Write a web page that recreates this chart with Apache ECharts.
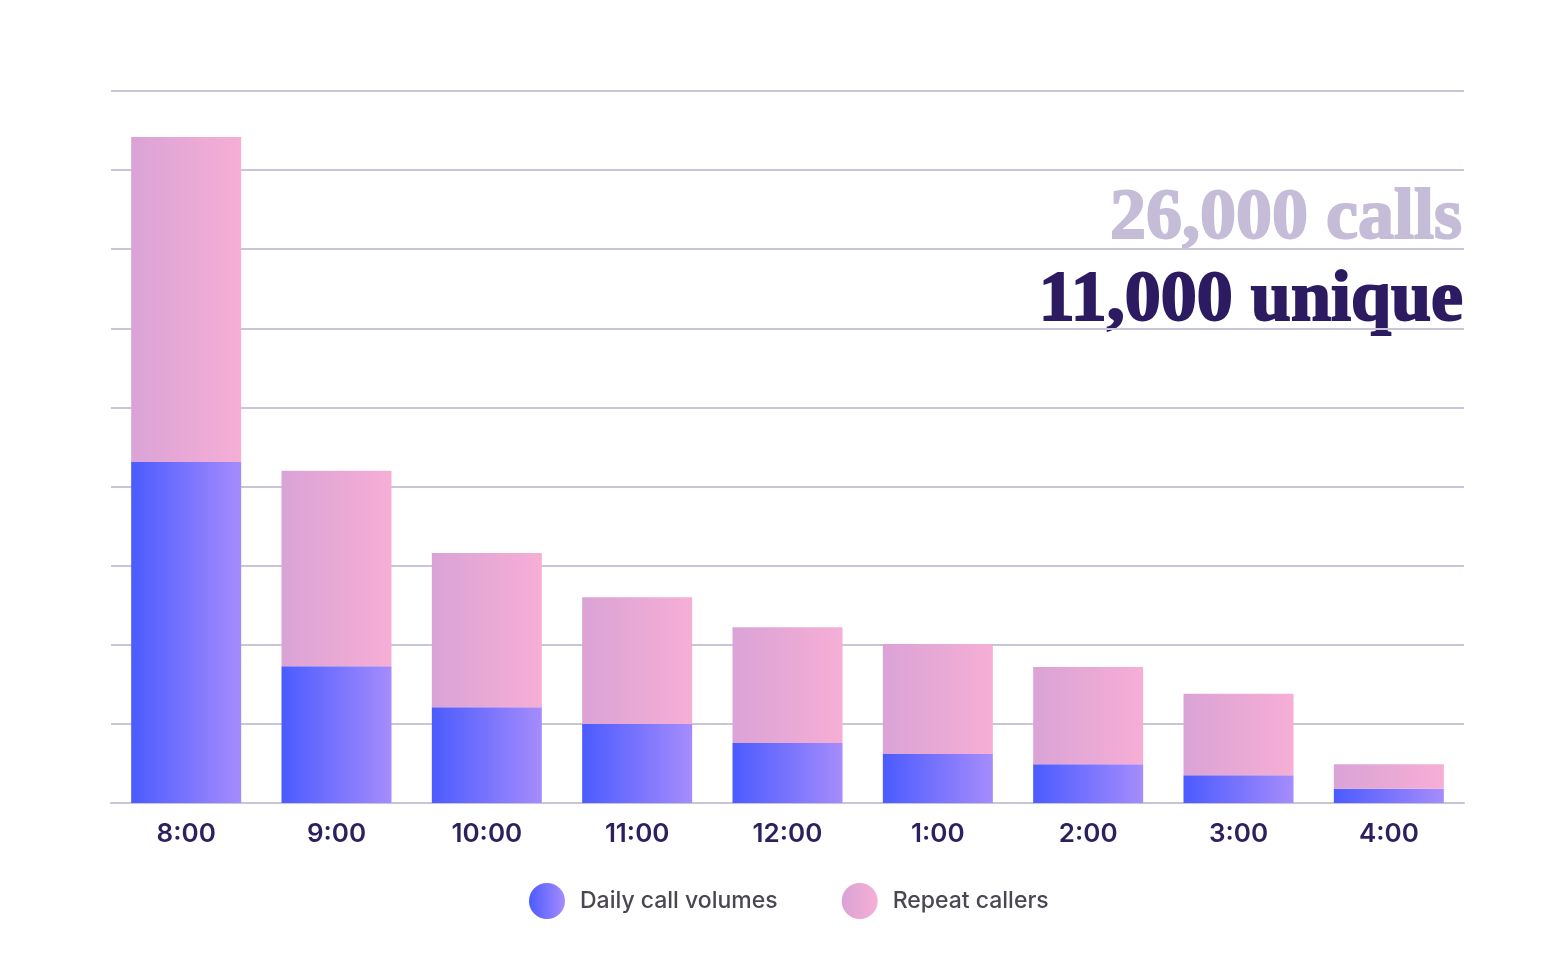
<!DOCTYPE html>
<html>
<head>
<meta charset="utf-8">
<script src="https://cdn.jsdelivr.net/npm/echarts@6/dist/echarts.min.js"></script>
<style>
html,body{margin:0;padding:0;background:#fff;}
#c{width:1558px;height:970px;}
</style>
</head>
<body>
<div id="c"></div>
<script>
const categories = ['8:00','9:00','10:00','11:00','12:00','1:00','2:00','3:00','4:00'];
const dailyCallVolumes = [4.31, 1.73, 1.21, 1.00, 0.76, 0.62, 0.49, 0.35, 0.18];
const repeatCallers = [4.11, 2.47, 1.95, 1.60, 1.46, 1.39, 1.23, 1.03, 0.31];
const headlineTotal = '26,000 calls';
const headlineUnique = '11,000 unique';

const chart = echarts.init(document.getElementById('c'));
const blueGrad = new echarts.graphic.LinearGradient(0, 0, 1, 0, [
  {offset: 0, color: '#4b5bff'},
  {offset: 1, color: '#a68cfc'}
]);
const pinkGrad = new echarts.graphic.LinearGradient(0, 0, 1, 0, [
  {offset: 0, color: '#daa3d6'},
  {offset: 1, color: '#f6aed5'}
]);

chart.setOption({
  animation: false,
  backgroundColor: '#ffffff',
  grid: {left: 111, right: 94, top: 91, bottom: 167, containLabel: false},
  xAxis: {
    type: 'category',
    data: categories,
    axisLine: {show: true, lineStyle: {color: '#c9c5d8', width: 2}},
    axisTick: {show: false},
    axisLabel: {
      color: '#2e1f5e', fontFamily: 'Inter', fontSize: 26, fontWeight: 600, margin: 18
    }
  },
  yAxis: {
    type: 'value',
    min: 0, max: 9, interval: 1,
    axisLabel: {show: false},
    axisLine: {show: false},
    axisTick: {show: false},
    splitLine: {show: true, lineStyle: {color: '#c9c5d8', width: 2}}
  },
  legend: {
    bottom: 46,
    left: 524,
    icon: 'circle',
    itemWidth: 36,
    itemHeight: 36,
    itemGap: 64,
    textStyle: {color: '#4a4652', fontFamily: 'Inter', fontSize: 23, fontWeight: 500, padding: [0, 0, 0, 10]},
    data: ['Daily call volumes', 'Repeat callers']
  },
  series: [
    {
      name: 'Daily call volumes', type: 'bar', stack: 'total',
      barWidth: 110, data: dailyCallVolumes,
      itemStyle: {color: blueGrad}
    },
    {
      name: 'Repeat callers', type: 'bar', stack: 'total',
      barWidth: 110, data: repeatCallers,
      itemStyle: {color: pinkGrad}
    }
  ],
  graphic: [
    {
      type: 'text', right: 95, top: 182,
      style: {text: headlineTotal, fill: '#c5bdd8', stroke: '#c5bdd8', lineWidth: 2,
              font: 'bold 72px "Liberation Serif"', textAlign: 'right'}
    },
    {
      type: 'text', right: 94, top: 264,
      style: {text: headlineUnique, fill: '#2d1b61', stroke: '#2d1b61', lineWidth: 2,
              font: 'bold 72px "Liberation Serif"', textAlign: 'right'}
    }
  ]
});
</script>
</body>
</html>
